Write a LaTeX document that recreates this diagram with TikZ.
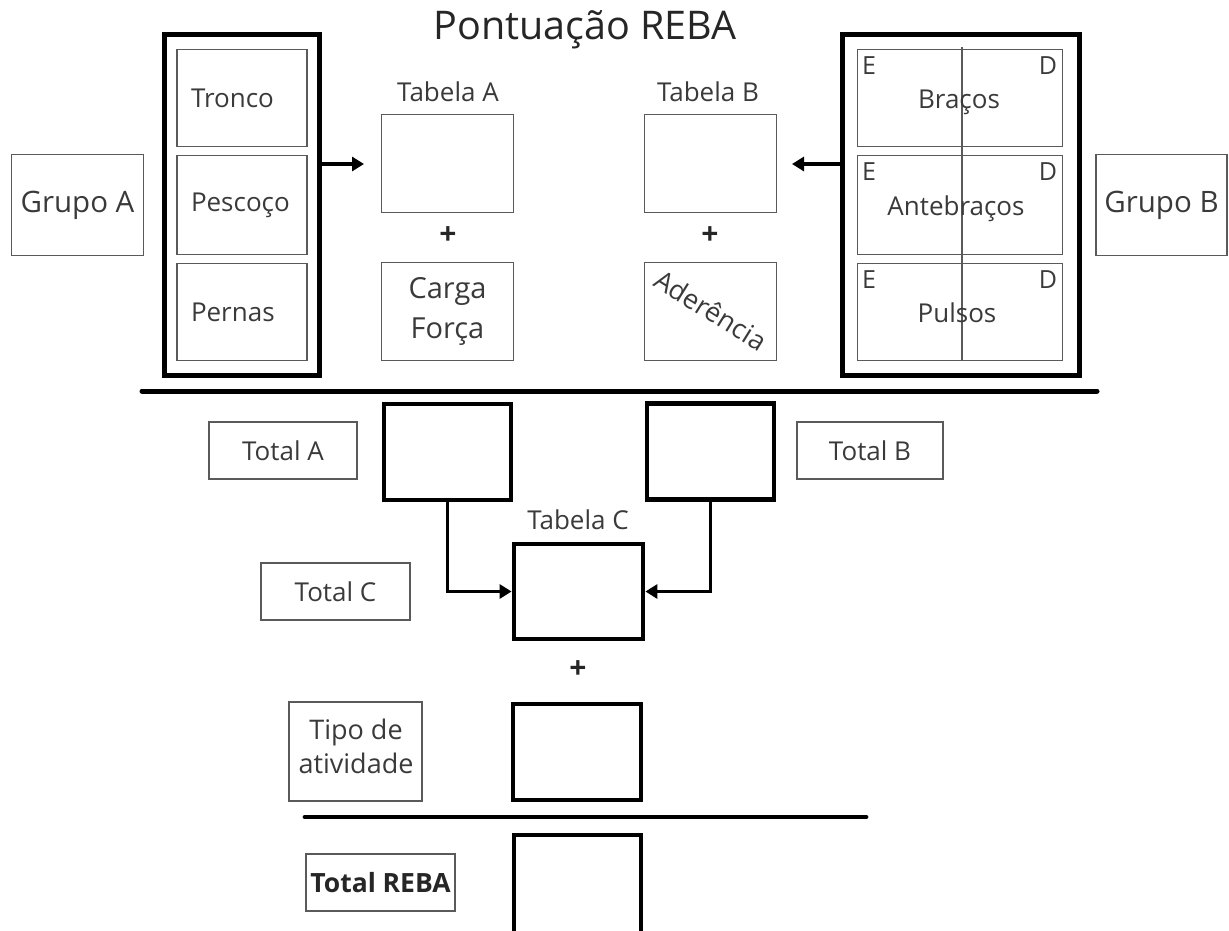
\documentclass[tikz,border=0pt]{standalone}
\usepackage{fontspec}
\setmainfont{Open Sans}
\usetikzlibrary{arrows.meta}
\definecolor{ink}{HTML}{3A3A3A}
\definecolor{frame}{HTML}{5A5A5A}

\begin{document}
\begin{tikzpicture}[x=1pt,y=-1pt,
  txt/.style={text=ink, font=\fontsize{26}{32}\selectfont, inner sep=0pt},
  thinbox/.style={draw=frame, line width=1.8pt, inner sep=0pt, text=ink,
                  font=\fontsize{26}{32}\selectfont, align=center},
  partbox/.style={thinbox, minimum width=130pt, text width=102pt, align=left},
  valbox/.style={draw=black, line width=4.8pt, inner sep=0pt,
                 minimum width=127pt, minimum height=96pt},
  groupbox/.style={draw=black, line width=5pt, inner sep=0pt},
  plus/.style={text=black!85, font=\bfseries\fontsize{30}{30}\selectfont, inner sep=0pt},
  rule/.style={line width=4.8pt, line cap=round},
  feed/.style={line width=3.8pt, -{Triangle[length=12pt,width=14pt]}},
  side/.style={txt, font=\fontsize{25}{30}\selectfont}
]
\useasboundingbox (0,0) rectangle (1229,930);
\clip (0,0) rectangle (1229,930);

% title
\node[txt, text=black!85, font=\fontsize{39.5}{46}\selectfont] (title) at (585,30) {Pontuação REBA};

% group A: trunk, neck, legs
\node[groupbox, minimum width=155pt, minimum height=341pt] (grpA) at (242,205) {};
\node[partbox, minimum height=97pt] (tronco) at (242,98) {Tronco};
\node[partbox, minimum height=99pt] (pescoco) at (242,205) {Pescoço};
\node[partbox, minimum height=97pt] (pernas) at (242,312) {Pernas};
\node[thinbox, minimum width=132pt, minimum height=101pt, font=\fontsize{29.5}{34}\selectfont] (grupoA) at (77.5,205) {Grupo A};

% group B: arms, forearms, wrists (left / right)
\node[groupbox, minimum width=237pt, minimum height=341pt] (grpB) at (961,205) {};
\node[thinbox, minimum width=205pt, minimum height=97pt] (bracos) at (960,98) {};
\node[thinbox, minimum width=205pt, minimum height=99pt] (antebracos) at (960,205) {};
\node[thinbox, minimum width=205pt, minimum height=97pt] (pulsos) at (960,312) {};
\draw[frame, line width=1.5pt] (962,47) -- (962,361);
\node[txt] (tBracos) at (959,102) {Braços};
\node[txt] (tAnte) at (956,209) {Antebraços};
\node[txt] (tPulsos) at (957,313) {Pulsos};
\foreach \r/\y in {b/66, a/172, p/280}{
  \node[side] (E\r) at (869,\y) {E};
  \node[side] (D\r) at (1048,\y) {D};
}
\node[thinbox, minimum width=131pt, minimum height=101pt, font=\fontsize{29.5}{34}\selectfont] (grupoB) at (1161.5,205) {Grupo B};

% arrows into tables A and B
\coordinate (inA) at (364,164);
\coordinate (inB) at (792,164);
\draw[feed] (inA -| grpA.east) -- (inA);
\draw[feed] (inB -| grpB.west) -- (inB);

% table A + load/force
\node[thinbox, minimum width=132pt, minimum height=98pt] (tabA) at (447.5,163.5) {};
\node[txt] (lblA) at (448,92) {Tabela A};
\node[plus] (plusA) at (448,236) {+};
\node[thinbox, minimum width=132pt, minimum height=98pt, font=\fontsize{29}{40}\selectfont] (carga) at (447.5,311.5) {Carga\\Força};

% table B + coupling
\node[thinbox, minimum width=132pt, minimum height=98pt] (tabB) at (710.5,163.5) {};
\node[txt] (lblB) at (708,92) {Tabela B};
\node[plus] (plusB) at (710,236) {+};
\node[thinbox, minimum width=132pt, minimum height=98pt] (ader) at (710.5,311.5) {};
\node[txt, font=\fontsize{27}{32}\selectfont, rotate=-32] (tAder) at (711,310) {Aderência};

% first summation rule
\coordinate (r1a) at (142,391);
\coordinate (r1b) at (1097,391);
\draw[rule, line width=5pt] (r1a) -- (r1b);

% totals A and B
\node[valbox] (valA) at (447.5,452) {};
\node[valbox] (valB) at (710.5,451.5) {};
\node[thinbox, minimum width=148pt, minimum height=57pt] (totA) at (283,450.5) {Total A};
\node[thinbox, minimum width=146pt, minimum height=57pt] (totB) at (870,450.5) {Total B};

% table C
\node[valbox, minimum width=129pt, minimum height=95pt] (tabC) at (578.5,591.5) {};
\node[txt] (lblC) at (578,520) {Tabela C};
\node[thinbox, minimum width=149pt, minimum height=57pt] (totC) at (335.5,591.5) {Total C};
\draw[feed] (valA.south) |- (tabC.west);
\draw[feed] (valB.south) |- (tabC.east);

% activity
\node[plus] (plusC) at (578,670) {+};
\node[valbox, minimum width=128pt] (valAtiv) at (577,752) {};
\node[thinbox, minimum width=133pt, minimum height=99pt] (tipo) at (355.5,751.5) {};
\node[txt, font=\fontsize{27}{34}\selectfont, align=center] (tTipo) at (356,746) {Tipo de\\atividade};

% final rule and REBA total
\coordinate (r2a) at (305,817);
\coordinate (r2b) at (866,817);
\draw[rule] (r2a) -- (r2b);
\node[valbox, minimum width=127pt, minimum height=105pt] (valReba) at (577.5,887.5) {};
\node[thinbox, minimum width=149pt, minimum height=57pt, font=\bfseries\fontsize{26.5}{32}\selectfont, text=black!85] (reba) at (380.5,882.5) {Total REBA};
\end{tikzpicture}
\end{document}
